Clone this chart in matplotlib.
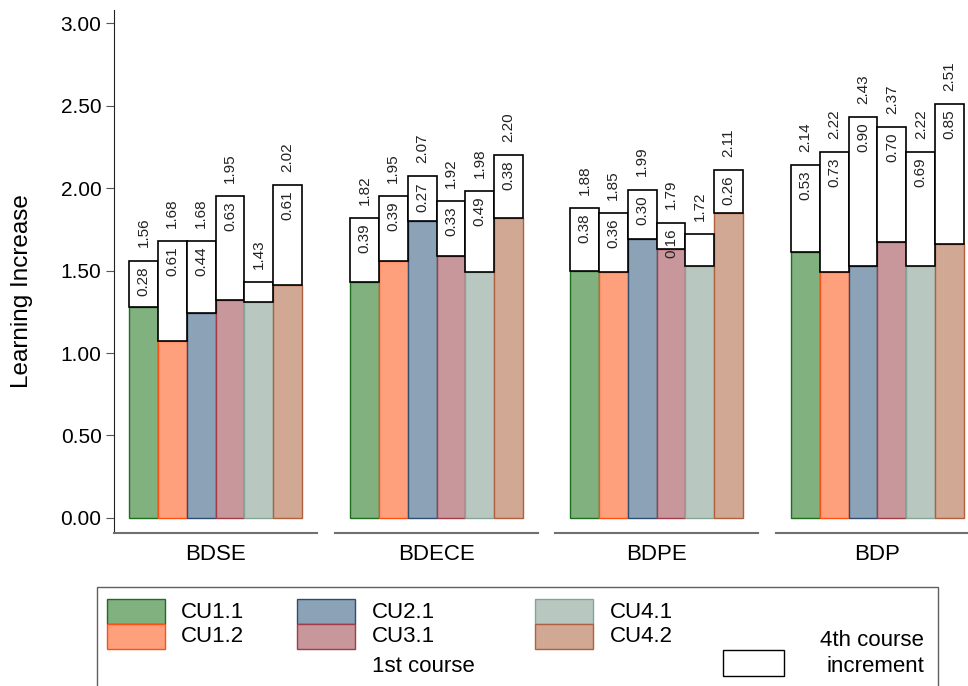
import numpy as np
import matplotlib
matplotlib.use("Agg")
import matplotlib.pyplot as plt
from matplotlib.patches import Rectangle

plt.rcParams['font.family'] = ['Liberation Sans', 'DejaVu Sans']

programs = ["BDSE", "BDECE", "BDPE", "BDP"]
units = ["CU1.1", "CU1.2", "CU2.1", "CU3.1", "CU4.1", "CU4.2"]

# 1st course value and 4th course increment, per program (order of units)
bdse_first = [1.28, 1.07, 1.24, 1.32, 1.31, 1.41]
bdse_inc = [0.28, 0.61, 0.44, 0.63, 0.12, 0.61]
bdece_first = [1.43, 1.56, 1.80, 1.59, 1.49, 1.82]
bdece_inc = [0.39, 0.39, 0.27, 0.33, 0.49, 0.38]
bdpe_first = [1.50, 1.49, 1.69, 1.63, 1.53, 1.85]
bdpe_inc = [0.38, 0.36, 0.30, 0.16, 0.19, 0.26]
bdp_first = [1.61, 1.49, 1.53, 1.67, 1.53, 1.66]
bdp_inc = [0.53, 0.73, 0.90, 0.70, 0.69, 0.85]

# increment labels that are not printed in the original
hidden_inc_labels = [("BDSE", 4), ("BDPE", 4)]

y_ticks = [0.0, 0.5, 1.0, 1.5, 2.0, 2.5, 3.0]

fills = ["#80b17f", "#ffa07c", "#8ca2b6", "#c8979b", "#b8c8c1", "#d0a894"]
edges = ["#1f6e1f", "#ff5014", "#2d4d70", "#a03c48", "#85a595", "#b0603c"]

first_all = [bdse_first, bdece_first, bdpe_first, bdp_first]
inc_all = [bdse_inc, bdece_inc, bdpe_inc, bdp_inc]

W, H = 968, 686
fig = plt.figure(figsize=(W / 100, H / 100), dpi=100)


def fx(x):
    return x / W


def fy(y):
    return 1 - y / H


axis_left = [114, 335, 555, 776]
axis_w = 203
axis_top, axis_bot = 10, 533

for i, prog in enumerate(programs):
    ax = fig.add_axes([fx(axis_left[i]), fy(axis_bot), axis_w / W, (axis_bot - axis_top) / H])
    first = np.array(first_all[i])
    inc = np.array(inc_all[i])
    x = np.arange(len(units))
    ax.bar(x, first, width=1, color=fills, edgecolor=edges, linewidth=1, zorder=2)
    ax.bar(x, inc, bottom=first, width=1, color="white", edgecolor="black", linewidth=1.2, zorder=3)
    for j in range(len(units)):
        tot = first[j] + inc[j]
        # total above the box, increment inside the top of the box
        ax.annotate(f"{tot:.2f}", (x[j], tot), xytext=(0, 9.5), textcoords="offset points",
                    rotation=90, ha="center", va="bottom", fontsize=11, color="#222222")
        if (prog, j) not in hidden_inc_labels:
            ax.annotate(f"{inc[j]:.2f}", (x[j], tot), xytext=(0, -4), textcoords="offset points",
                        rotation=90, ha="center", va="top", fontsize=11, color="#222222", zorder=4)

    ax.set_xlim(-1.02, 6.02)
    ax.set_ylim(-0.091, 3.079)
    ax.spines["top"].set_visible(False)
    ax.spines["right"].set_visible(False)
    ax.spines["bottom"].set_color("#707070")
    ax.spines["bottom"].set_linewidth(1.5)
    ax.set_xticks([2.5])
    ax.set_xticklabels([prog], fontsize=16)
    ax.tick_params(axis="x", length=0, pad=8)
    if i == 0:
        ax.set_yticks(y_ticks)
        ax.set_yticklabels([f"{v:.2f}" for v in y_ticks], fontsize=15)
        ax.tick_params(axis="y", length=6, color="#555555", pad=3)
        ax.spines["left"].set_color("#222222")
    else:
        ax.spines["left"].set_visible(False)
        ax.set_yticks([])

fig.text(fx(22), fy(291), "Learning Increase", rotation=90, ha="center", va="center", fontsize=17.5)

# legend box
fig.add_artist(Rectangle((fx(97), fy(720)), (938 - 97) / W, (720 - 587) / H,
                         transform=fig.transFigure, fill=False, edgecolor="#606060", linewidth=1))
col_x = [107, 297, 535]
text_x = [181, 372, 610]
row_top = [599, 624]
for k, name in enumerate(units):
    c = k // 2
    r = k % 2
    fig.add_artist(Rectangle((fx(col_x[c]), fy(row_top[r] + 25)), 58 / W, 25 / H,
                             transform=fig.transFigure, facecolor=fills[k], edgecolor=edges[k], linewidth=1))
    fig.text(fx(text_x[c]), fy(row_top[r] + 13), name, ha="left", va="center", fontsize=16)
fig.text(fx(372), fy(666), "1st course", ha="left", va="center", fontsize=16)

fig.add_artist(Rectangle((fx(723), fy(676)), 61 / W, 26 / H, transform=fig.transFigure,
                         facecolor="white", edgecolor="black", linewidth=1))
fig.text(fx(924), fy(641), "4th course", ha="right", va="center", fontsize=16)
fig.text(fx(924), fy(667), "increment", ha="right", va="center", fontsize=16)

fig.savefig("out.png", dpi=100)
